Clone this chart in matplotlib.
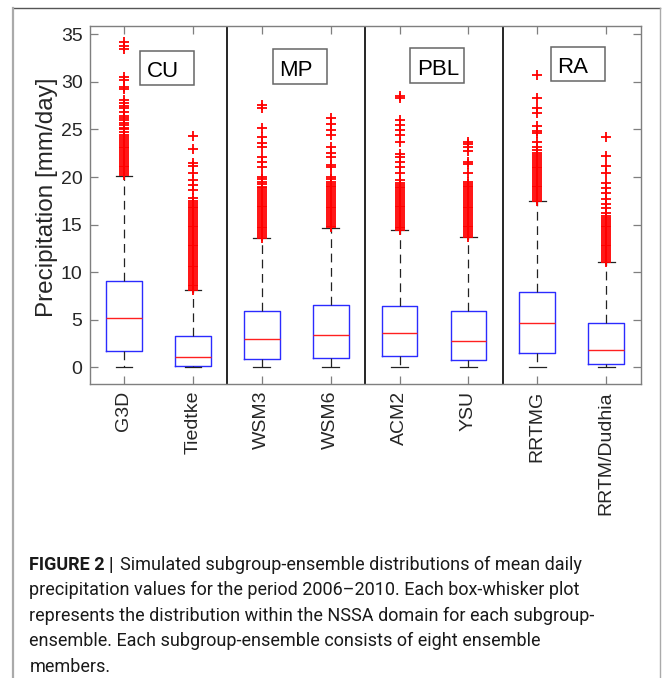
import matplotlib
matplotlib.use("Agg")
import matplotlib.pyplot as plt
from matplotlib.patches import Rectangle
from matplotlib.lines import Line2D

# ---------------- data ----------------
labels = ["G3D", "Tiedtke", "WSM3", "WSM6", "ACM2", "YSU", "RRTMG", "RRTM/Dudhia"]
medians = [5.21, 1.08, 2.97, 3.40, 3.57, 2.80, 4.62, 1.79]
q1s = [1.71, 0.14, 0.90, 1.01, 1.16, 0.74, 1.54, 0.31]
q3s = [9.07, 3.32, 5.95, 6.51, 6.44, 5.92, 7.92, 4.62]
whis_lo = [0.05, 0.0, 0.05, 0.05, 0.05, 0.05, 0.08, 0.0]
whis_hi = [20.1, 8.12, 13.56, 14.68, 14.40, 13.66, 17.48, 11.07]

out_g3d = [20.2, 20.4, 20.6, 20.8, 21.0, 21.2, 21.4, 21.6, 21.8, 22.0, 22.2, 22.4,
           22.6, 22.8, 23.0, 23.2, 23.4, 23.6, 23.8, 24.0, 24.2, 24.4, 24.7, 25.0,
           25.2, 25.5, 25.7, 26.0, 26.2, 26.4, 26.8, 27.2, 27.5, 27.8, 28.1, 29.3,
           29.5, 30.2, 30.5, 33.5, 33.8, 34.2]
out_tiedtke = [8.1, 8.3, 8.5, 8.7, 8.9, 9.1, 9.3, 9.5, 9.7, 9.9, 10.1, 10.3, 10.5,
               10.7, 10.9, 11.1, 11.3, 11.5, 11.7, 11.9, 12.1, 12.3, 12.5, 12.7,
               12.9, 13.1, 13.3, 13.5, 13.7, 13.9, 14.1, 14.3, 14.5, 14.7, 14.9,
               15.1, 15.3, 15.5, 15.7, 15.9, 16.1, 16.3, 16.5, 16.7, 16.9, 17.1,
               17.3, 17.5, 17.8, 18.6, 19.2, 19.7, 20.4, 21.2, 21.5, 22.9, 24.3]
out_wsm3 = [13.6, 13.8, 14.0, 14.2, 14.4, 14.6, 14.8, 15.0, 15.2, 15.4, 15.6, 15.8,
            16.0, 16.2, 16.4, 16.6, 16.8, 17.0, 17.2, 17.4, 17.6, 17.8, 18.0, 18.2,
            18.4, 18.6, 18.8, 19.0, 19.3, 19.5, 19.8, 20.0, 21.1, 21.6, 22.1, 23.2,
            23.6, 24.2, 25.1, 27.2, 27.6]
out_wsm6 = [14.7, 14.9, 15.1, 15.3, 15.5, 15.7, 15.9, 16.1, 16.3, 16.5, 16.7, 16.9,
            17.1, 17.3, 17.5, 17.7, 17.9, 18.1, 18.3, 18.5, 18.7, 18.9, 19.1, 19.3,
            19.5, 19.8, 20.0, 21.0, 21.3, 22.1, 22.5, 23.2, 24.4, 24.9, 25.6, 26.2]
out_acm2 = [14.4, 14.6, 14.8, 15.0, 15.2, 15.4, 15.6, 15.8, 16.0, 16.2, 16.4, 16.6,
            16.8, 17.0, 17.2, 17.4, 17.6, 17.8, 18.0, 18.2, 18.4, 18.6, 18.8, 19.0,
            19.2, 19.4, 19.7, 20.4, 21.05, 21.6, 22.1, 22.4, 23.7, 24.4, 24.9, 25.5,
            26.0, 28.3, 28.5]
out_ysu = [13.7, 13.9, 14.1, 14.3, 14.5, 14.7, 14.9, 15.1, 15.3, 15.5, 15.7, 15.9,
           16.1, 16.3, 16.5, 16.7, 16.9, 17.1, 17.3, 17.5, 17.7, 17.9, 18.1, 18.3,
           18.5, 18.7, 18.9, 19.1, 19.3, 19.5, 20.4, 21.4, 21.6, 22.7, 23.2, 23.5, 23.7]
out_rrtmg = [17.5, 17.7, 17.9, 18.1, 18.3, 18.5, 18.7, 18.9, 19.1, 19.3, 19.5, 19.7,
             19.9, 20.1, 20.3, 20.5, 20.7, 20.9, 21.1, 21.3, 21.5, 21.7, 21.9, 22.1,
             22.3, 22.5, 22.8, 23.2, 23.7, 24.6, 24.8, 25.4, 26.7, 27.2, 28.3, 30.7]
out_dudhia = [11.1, 11.3, 11.5, 11.7, 11.9, 12.1, 12.3, 12.5, 12.7, 12.9, 13.1, 13.3,
              13.5, 13.7, 13.9, 14.1, 14.3, 14.5, 14.7, 14.9, 15.1, 15.3, 15.5, 15.7,
              15.9, 16.2, 16.7, 17.2, 17.7, 18.3, 18.8, 19.4, 20.4, 21.2, 22.2, 24.2]
outliers = [out_g3d, out_tiedtke, out_wsm3, out_wsm6, out_acm2, out_ysu, out_rrtmg, out_dudhia]

group_names = ["CU", "MP", "PBL", "RA"]
yticks = [0, 5, 10, 15, 20, 25, 30, 35]

caption_bold = "FIGURE 2 |"
caption_lines = [
    "Simulated subgroup-ensemble distributions of mean daily",
    "precipitation values for the period 2006\u20132010. Each box-whisker plot",
    "represents the distribution within the NSSA domain for each subgroup-",
    "ensemble. Each subgroup-ensemble consists of eight ensemble",
    "members.",
]

# ---------------- figure ----------------
W, H = 663, 678
fig = plt.figure(figsize=(W / 100, H / 100), dpi=100)
fig.patch.set_facecolor("white")

def fx(px):
    return px / W

def fy(py):
    return 1 - py / H

# outer frame
fig.add_artist(Line2D([fx(12.7), fx(659.5)], [fy(8.3), fy(8.3)], color="#555555", lw=1.0))
fig.add_artist(Line2D([fx(12.7), fx(12.7)], [fy(8.3), fy(690)], color="#aaaaaa", lw=1.6))
fig.add_artist(Line2D([fx(659.5), fx(659.5)], [fy(8.3), fy(690)], color="#aaaaaa", lw=1.0))

ax = fig.add_axes([fx(89.5), fy(384), fx(640.7) - fx(89.5), fy(25.7) - fy(384)])

stats = []
for i in range(len(labels)):
    stats.append(dict(label=labels[i], med=medians[i], q1=q1s[i], q3=q3s[i],
                      whislo=whis_lo[i], whishi=whis_hi[i], fliers=outliers[i]))

ax.bxp(stats, positions=list(range(1, len(labels) + 1)), widths=0.52, capwidths=0.24,
       showfliers=True,
       boxprops=dict(color="#2b2bff", lw=1.0),
       medianprops=dict(color="#ff2020", lw=1.0),
       whiskerprops=dict(color="#222222", lw=0.9, linestyle=(0, (7, 4.5))),
       capprops=dict(color="#222222", lw=0.9),
       flierprops=dict(marker="+", markeredgecolor="red", markerfacecolor="none",
                       markersize=7, markeredgewidth=1.3, linestyle="none"))

ax.set_xlim(0.5, 8.5)
ax.set_ylim(-1.75, 35.9)
ax.set_yticks(yticks)
ax.set_xticks(list(range(1, len(labels) + 1)))
ax.set_xticklabels(labels, rotation=90, fontsize=14, family="Liberation Sans", color="#262626")
for t in ax.get_yticklabels():
    t.set_family("Liberation Sans")
    t.set_fontsize(14)
    t.set_color("#262626")
ax.tick_params(direction="in", length=6, width=0.9, top=True, right=True,
               colors="#7f7f7f", labelcolor="#262626", pad=5)
for s in ax.spines.values():
    s.set_color("#7f7f7f")
    s.set_linewidth(1.0)

ax.set_ylabel("Precipitation [mm/day]", fontsize=17.5, family="Liberation Sans", color="#262626")
ax.yaxis.set_label_coords(-0.057, 0.522)

# group dividers
for xd in [2.5, 4.5, 6.5]:
    ax.axvline(xd, color="black", lw=1.2)

# group label boxes (data coords)
box_x = [(1.233, 2.012), (3.159, 3.944), (5.152, 5.936), (7.191, 7.977)]
box_y = [(29.67, 33.28), (29.81, 33.42), (29.91, 33.53), (30.06, 33.67)]
for name, (x0, x1), (y0, y1) in zip(group_names, box_x, box_y):
    ax.add_patch(Rectangle((x0, y0), x1 - x0, y1 - y0, fill=True, facecolor="white",
                           edgecolor="#666666", lw=1.1, zorder=5))
    ax.text(x0 + 0.1, y0 + 0.85, name, fontsize=16, family="Liberation Sans",
            color="black", ha="left", va="baseline", zorder=6)

# caption
fam = ["Roboto", "Liberation Sans"]
renderer = fig.canvas.get_renderer()
x0 = 29.3
baselines = [569.7, 595.2, 620.7, 646.2, 671.7]
probe = fig.text(0, 0, caption_lines[2], fontsize=14, family=fam)
wprobe = probe.get_window_extent(renderer).width
probe.remove()
fs = 14 * (596.7 - x0) / wprobe

tb = fig.text(fx(x0), fy(baselines[0]), caption_bold, fontsize=fs, family=fam,
              weight="bold", color="#1a1a1a", va="baseline", ha="left")
wb = tb.get_window_extent(renderer).width
fig.text(fx(x0 + wb + 6), fy(baselines[0]), caption_lines[0], fontsize=fs, family=fam,
         color="#1a1a1a", va="baseline", ha="left")
for line, b in zip(caption_lines[1:], baselines[1:]):
    fig.text(fx(x0), fy(b), line, fontsize=fs, family=fam, color="#1a1a1a",
             va="baseline", ha="left")

fig.savefig("out.png", dpi=100, facecolor="white")
